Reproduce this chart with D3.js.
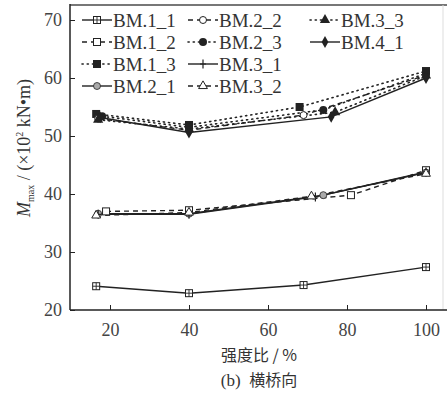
<!DOCTYPE html>
<html>
<head>
<meta charset="utf-8">
<script src="https://cdn.jsdelivr.net/npm/d3@7"></script>
<style>
  html, body { margin: 0; padding: 0; background: #fff; }
  svg { display: block; }
  .serif { font-family: "Liberation Serif", "Times New Roman", Times, serif; }
  .cjk { font-family: "Noto Sans CJK SC", sans-serif; }
</style>
</head>
<body>
<svg id="chart" width="447" height="393"></svg>
<script>
// Strength ratio (%) per series, and the max bending moment (×10² kN·m)
const seriesNames = ["BM.1_1", "BM.1_2", "BM.1_3", "BM.2_1", "BM.2_2", "BM.2_3", "BM.3_1", "BM.3_2", "BM.3_3", "BM.4_1"];

const bm11x = [16.5, 40, 69, 100];   const bm11y = [24.1, 22.9, 24.3, 27.4];
const bm12x = [19, 40, 81, 100];     const bm12y = [37.0, 37.2, 39.8, 44.1];
const bm13x = [16.5, 40, 68, 100];   const bm13y = [53.8, 51.9, 55.0, 61.2];
const bm21x = [17, 40, 74, 100];     const bm21y = [36.6, 36.6, 39.8, 43.7];
const bm22x = [17, 40, 69, 100];     const bm22y = [53.0, 51.0, 53.6, 60.5];
const bm23x = [18, 40, 74, 100];     const bm23y = [53.4, 51.5, 54.5, 60.8];
const bm31x = [17, 40, 72, 100];     const bm31y = [36.5, 36.5, 39.5, 43.8];
const bm32x = [16.5, 40, 71, 100];   const bm32y = [36.3, 36.8, 39.6, 43.5];
const bm33x = [17, 40, 77, 100];     const bm33y = [52.8, 51.2, 54.1, 60.4];
const bm41x = [17.5, 40, 76, 100];   const bm41y = [53.2, 50.6, 53.3, 60.0];

const xTicks = [20, 40, 60, 80, 100];
const yTicks = [20, 30, 40, 50, 60, 70];

// line style and marker per series
const styles = {
  "BM.1_1": { dash: null,  marker: "squarePlus" },
  "BM.1_2": { dash: "5,4", marker: "squareOpen" },
  "BM.1_3": { dash: "1.2,4", marker: "squareFilled" },
  "BM.2_1": { dash: null,  marker: "circleGray" },
  "BM.2_2": { dash: "5,4", marker: "circleOpen" },
  "BM.2_3": { dash: "1.2,4", marker: "circleFilled" },
  "BM.3_1": { dash: null,  marker: "plus" },
  "BM.3_2": { dash: "5,4", marker: "triangleOpen" },
  "BM.3_3": { dash: "1.2,4", marker: "triangleFilled" },
  "BM.4_1": { dash: null,  marker: "diamondFilled" }
};

const xs = [bm11x, bm12x, bm13x, bm21x, bm22x, bm23x, bm31x, bm32x, bm33x, bm41x];
const ys = [bm11y, bm12y, bm13y, bm21y, bm22y, bm23y, bm31y, bm32y, bm33y, bm41y];
const series = seriesNames.map((name, i) => ({
  name,
  points: xs[i].map((x, j) => ({ x, y: ys[i][j] })),
  ...styles[name]
}));

const svg = d3.select("#chart");
const ink = "#222";

const pLeft = 70, pRight = 443, pTop = 5, pBottom = 310;
const x = d3.scaleLinear().domain([20, 100]).range([110, 426]);
const y = d3.scaleLinear().domain([20, 70]).range([310, 20]);

// frame
svg.append("line").attr("x1", pLeft).attr("x2", 447).attr("y1", pTop).attr("y2", pTop)
  .attr("stroke", "#777").attr("stroke-width", 2.2);
svg.append("line").attr("x1", pRight).attr("x2", pRight).attr("y1", pTop).attr("y2", pBottom)
  .attr("stroke", "#ddd").attr("stroke-width", 1);

// axes with inward ticks
const xAxis = svg.append("g").attr("transform", `translate(0,${pBottom})`)
  .call(d3.axisBottom(x).tickValues(xTicks).tickSizeInner(-5).tickSizeOuter(0).tickPadding(13));
xAxis.select(".domain").remove();
xAxis.append("line").attr("x1", pLeft).attr("x2", 447).attr("stroke", ink).attr("stroke-width", 1.5);

const yAxis = svg.append("g").attr("transform", `translate(${pLeft},0)`)
  .call(d3.axisLeft(y).tickValues(yTicks).tickSizeInner(-5).tickSizeOuter(0).tickPadding(8));
yAxis.select(".domain").remove();
yAxis.append("line").attr("y1", pTop - 1).attr("y2", pBottom).attr("stroke", ink).attr("stroke-width", 1.5);

svg.selectAll(".tick line").attr("stroke", ink).attr("stroke-width", 1);
svg.selectAll(".tick text")
  .attr("font-family", "'Liberation Serif', serif")
  .attr("font-size", 18)
  .attr("fill", "#444");

// marker drawing
function drawMarker(g, type, cx, cy) {
  const m = g.append("g").attr("transform", `translate(${cx},${cy})`);
  const sym = (t, size) => d3.symbol().type(t).size(size)();
  switch (type) {
    case "squarePlus":
      m.append("rect").attr("x", -3.5).attr("y", -3.5).attr("width", 7).attr("height", 7)
        .attr("fill", "#fff").attr("stroke", ink).attr("stroke-width", 1);
      m.append("path").attr("d", "M-3.5,0H3.5M0,-3.5V3.5").attr("stroke", ink).attr("stroke-width", 0.9);
      break;
    case "squareOpen":
      m.append("rect").attr("x", -3.5).attr("y", -3.5).attr("width", 7).attr("height", 7)
        .attr("fill", "#fff").attr("stroke", ink).attr("stroke-width", 1);
      break;
    case "squareFilled":
      m.append("rect").attr("x", -4).attr("y", -4).attr("width", 8).attr("height", 8).attr("fill", ink);
      break;
    case "circleGray":
      m.append("circle").attr("r", 3.5).attr("fill", "#aaa").attr("stroke", ink).attr("stroke-width", 0.8);
      break;
    case "circleOpen":
      m.append("circle").attr("r", 3.5).attr("fill", "#fff").attr("stroke", ink).attr("stroke-width", 1);
      break;
    case "circleFilled":
      m.append("circle").attr("r", 4).attr("fill", ink);
      break;
    case "plus":
      m.append("path").attr("d", "M0,-4.5V4.5M-3,0H3").attr("stroke", ink).attr("stroke-width", 1.2);
      break;
    case "triangleOpen":
      m.append("path").attr("d", sym(d3.symbolTriangle, 34)).attr("fill", "#fff")
        .attr("stroke", ink).attr("stroke-width", 1);
      break;
    case "triangleFilled":
      m.append("path").attr("d", sym(d3.symbolTriangle, 45)).attr("fill", ink);
      break;
    case "diamondFilled":
      m.append("path").attr("d", sym(d3.symbolDiamond, 40)).attr("fill", ink);
      break;
  }
}

// series lines and markers
const isDotted = s => s.dash && s.dash.startsWith("1.2");
const line = d3.line().x(d => x(d.x)).y(d => y(d.y));
const plot = svg.append("g");
series.forEach(s => {
  plot.append("path").datum(s.points)
    .attr("d", line)
    .attr("fill", "none")
    .attr("stroke", ink)
    .attr("stroke-width", isDotted(s) ? 1.6 : 1.4)
    .attr("stroke-linecap", isDotted(s) ? "round" : "butt")
    .attr("stroke-dasharray", s.dash);
});
series.forEach(s => {
  s.points.forEach(p => drawMarker(plot, s.marker, x(p.x), y(p.y)));
});

// legend: 3 columns, filled column by column, 4 rows
const legendCols = [82, 188, 310];
const legendRowY = [20, 42, 64, 86];
const legend = svg.append("g");
series.forEach((s, i) => {
  const col = Math.floor(i / 4), row = i % 4;
  const lx = legendCols[col], ly = legendRowY[row];
  const w = 30;
  legend.append("line").attr("x1", lx).attr("x2", lx + w).attr("y1", ly).attr("y2", ly)
    .attr("stroke", ink).attr("stroke-width", isDotted(s) ? 1.6 : 1.4)
    .attr("stroke-linecap", isDotted(s) ? "round" : "butt")
    .attr("stroke-dasharray", s.dash);
  drawMarker(legend, s.marker, lx + w / 2, ly);
  legend.append("text").attr("class", "serif")
    .attr("x", lx + w + 1).attr("y", ly)
    .attr("dy", "0.35em")
    .attr("font-size", 19)
    .attr("fill", "#333")
    .text(s.name);
});

// y axis title
const yt = svg.append("text").attr("class", "serif")
  .attr("transform", "translate(30,148) rotate(-90)")
  .attr("text-anchor", "middle")
  .attr("font-size", 18)
  .attr("fill", "#333");
yt.append("tspan").attr("font-style", "italic").text("M");
yt.append("tspan").attr("font-size", 10).attr("dy", 4).text("max");
yt.append("tspan").attr("dy", -4).text(" / (×10");
yt.append("tspan").attr("font-size", 10).attr("dy", -7).text("2");
yt.append("tspan").attr("dy", 7).text(" kN•m)");

// x axis title and caption
svg.append("text").attr("class", "cjk")
  .attr("x", 259).attr("y", 355).attr("dy", "0.35em")
  .attr("text-anchor", "middle")
  .attr("font-size", 16).attr("fill", "#333")
  .text("强度比 / %");
const cap = svg.append("text").attr("class", "cjk")
  .attr("x", 259).attr("y", 380).attr("dy", "0.35em")
  .attr("text-anchor", "middle")
  .attr("font-size", 16).attr("fill", "#333");
cap.append("tspan").attr("class", "serif").attr("font-size", 17).text("(b)\u2002");
cap.append("tspan").text("横桥向");
</script>
</body>
</html>
